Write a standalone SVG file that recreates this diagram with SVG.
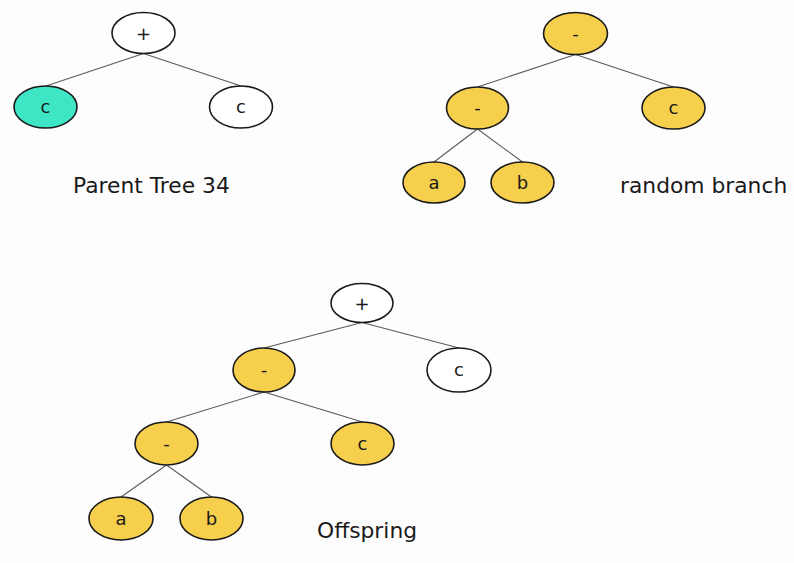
<svg xmlns="http://www.w3.org/2000/svg" width="794" height="563" viewBox="0 0 794 563">
  <style>
    .edge { stroke: #5a5a5a; stroke-width: 1.1; fill: none; }
    .node ellipse { stroke: #1a1a1a; stroke-width: 1.6; }
    .plain ellipse { fill: #ffffff; }
    .gold ellipse { fill: #f6cf4c; }
    .teal ellipse { fill: #3fe6c6; }
    .node text { font-family: "DejaVu Sans", Verdana, sans-serif; font-size: 18px; fill: #1a1a1a; text-anchor: middle; }
    .caption { font-family: "DejaVu Sans", Verdana, sans-serif; font-size: 21.8px; fill: #1a1a1a; }
  </style>
  <rect width="794" height="563" fill="#fdfdfd"/>

  <!-- connectors -->
  <g id="connectors">
    <!-- parent tree -->
    <line class="edge" x1="143.5" y1="53.5" x2="46" y2="86"/>
    <line class="edge" x1="143.5" y1="53.5" x2="241" y2="86"/>
    <!-- random branch -->
    <line class="edge" x1="575.5" y1="54.5" x2="477.5" y2="87"/>
    <line class="edge" x1="575.5" y1="54.5" x2="673.5" y2="87"/>
    <line class="edge" x1="477.5" y1="129" x2="434" y2="162"/>
    <line class="edge" x1="477.5" y1="129" x2="522.5" y2="162"/>
    <!-- offspring -->
    <line class="edge" x1="362" y1="322.5" x2="264" y2="348"/>
    <line class="edge" x1="362" y1="322.5" x2="459" y2="348"/>
    <line class="edge" x1="264" y1="392" x2="166.5" y2="422"/>
    <line class="edge" x1="264" y1="392" x2="362.5" y2="422"/>
    <line class="edge" x1="166.5" y1="465" x2="121" y2="497"/>
    <line class="edge" x1="166.5" y1="465" x2="211.5" y2="497"/>
  </g>

  <!-- parent tree -->
  <g id="p-plus" class="node plain"><ellipse cx="143.5" cy="33" rx="31.5" ry="20.5"/><text x="143.5" y="39.5">+</text></g>
  <g id="p-c1" class="node teal"><ellipse cx="45.5" cy="107" rx="31.5" ry="21"/><text x="45.5" y="113">c</text></g>
  <g id="p-c2" class="node plain"><ellipse cx="241" cy="107" rx="31.5" ry="21"/><text x="241" y="113">c</text></g>
  <text id="label-parent" class="caption" x="73" y="193">Parent Tree 34</text>

  <!-- random branch -->
  <g id="r-minus" class="node gold"><ellipse cx="575.5" cy="33.5" rx="32" ry="21"/><text x="575.5" y="39.5">-</text></g>
  <g id="r-minus2" class="node gold"><ellipse cx="477.5" cy="108" rx="31" ry="21"/><text x="477.5" y="114">-</text></g>
  <g id="r-c" class="node gold"><ellipse cx="673.5" cy="108" rx="31.5" ry="21"/><text x="673.5" y="114">c</text></g>
  <g id="r-a" class="node gold"><ellipse cx="434" cy="182.5" rx="31" ry="20.5"/><text x="434" y="189">a</text></g>
  <g id="r-b" class="node gold"><ellipse cx="522.5" cy="182.5" rx="31.5" ry="20.5"/><text x="522.5" y="189">b</text></g>
  <text id="label-random" class="caption" x="620" y="193">random branch</text>

  <!-- offspring -->
  <g id="o-plus" class="node plain"><ellipse cx="362" cy="303" rx="31" ry="19.5"/><text x="362" y="309.5">+</text></g>
  <g id="o-minus" class="node gold"><ellipse cx="264" cy="370" rx="31" ry="22"/><text x="264" y="376">-</text></g>
  <g id="o-c1" class="node plain"><ellipse cx="459" cy="370" rx="32" ry="22"/><text x="459" y="376">c</text></g>
  <g id="o-minus2" class="node gold"><ellipse cx="166.5" cy="443.5" rx="31.5" ry="21.5"/><text x="166.5" y="449.5">-</text></g>
  <g id="o-c2" class="node gold"><ellipse cx="362.5" cy="443.5" rx="31.5" ry="21.5"/><text x="362.5" y="449.5">c</text></g>
  <g id="o-a" class="node gold"><ellipse cx="121" cy="518.5" rx="32" ry="21.5"/><text x="121" y="525">a</text></g>
  <g id="o-b" class="node gold"><ellipse cx="211.5" cy="518.5" rx="31.5" ry="21.5"/><text x="211.5" y="525">b</text></g>
  <text id="label-offspring" class="caption" x="317" y="538">Offspring</text>
</svg>
